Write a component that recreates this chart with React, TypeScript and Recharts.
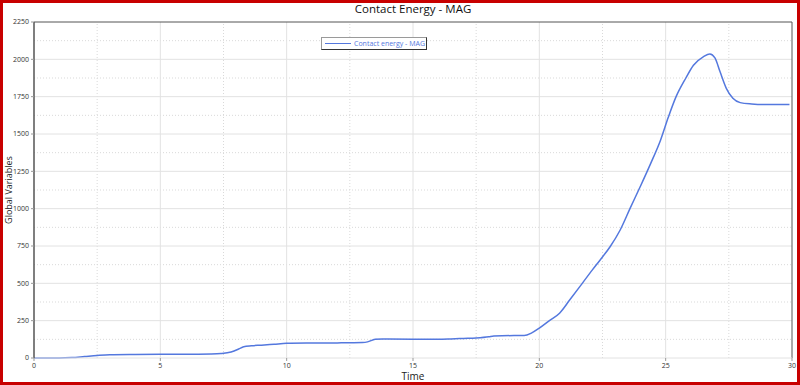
import { LineChart, Line, XAxis, YAxis, ReferenceLine } from "recharts";

const TITLE = "Contact Energy - MAG";
const SERIES_NAME = "Contact energy - MAG";

const time = [
  0, 1, 1.5, 2, 2.5, 3, 4, 5, 6, 7, 7.4, 7.8, 8.1, 8.3, 8.6, 9, 9.5, 10, 11,
  12, 13, 13.2, 13.5, 13.8, 14, 15, 16, 16.5, 17, 17.5, 18, 18.2, 19, 19.4,
  19.7, 20, 20.4, 20.8, 21.2, 21.7, 22.1, 22.4, 22.8, 23.2, 23.6, 24, 24.4,
  24.8, 25.1, 25.4, 25.8, 26.1, 26.5, 26.75, 26.95, 27.15, 27.4, 27.66, 27.95,
  28.4, 29, 29.5, 29.9,
];

const energy = [
  0, 0, 3, 10, 17, 22, 24, 25, 25, 27, 30, 40, 60, 76, 82, 86, 92, 98, 100,
  101, 104, 108, 125, 128, 127, 126, 126, 128, 131, 134, 142, 148, 150, 150,
  168, 200, 250, 300, 388, 500, 590, 655, 745, 857, 1005, 1150, 1300, 1460,
  1610, 1745, 1875, 1960, 2018, 2036, 2010, 1918, 1806, 1739, 1710, 1701,
  1697, 1698, 1697,
];

const xTicks = [0, 5, 10, 15, 20, 25, 30];
const yTicks = [0, 250, 500, 750, 1000, 1250, 1500, 1750, 2000, 2250];
const xMinor = [2.5, 7.5, 12.5, 17.5, 22.5, 27.5];
const yMinor = [125, 375, 625, 875, 1125, 1375, 1625, 1875, 2125];

const data = time.map((t, i) => ({ t, v: energy[i] }));

const LINE_COLOR = "#5478de";
const FONT = "'Open Sans', 'Noto Sans', sans-serif";

function LegendBox() {
  return (
    <div
      style={{
        position: "absolute",
        left: 321,
        top: 37,
        width: 104,
        height: 11,
        borderTop: "1px solid #9a9a9a",
        borderLeft: "1px solid #9a9a9a",
        borderRight: "1px solid #333",
        borderBottom: "1px solid #333",
        background: "#fff",
        display: "flex",
        alignItems: "center",
        fontSize: 7,
        color: LINE_COLOR,
        whiteSpace: "nowrap",
      }}
    >
      <span
        style={{
          display: "inline-block",
          width: 26,
          height: 1.5,
          background: LINE_COLOR,
          marginLeft: 3,
          marginRight: 3,
        }}
      />
      {SERIES_NAME}
    </div>
  );
}

export default function App() {
  return (
    <div
      style={{
        position: "absolute",
        left: 0,
        top: 0,
        width: 800,
        height: 385,
        background: "#fff",
        fontFamily: FONT,
      }}
    >
      <div
        style={{
          position: "absolute",
          left: 0,
          right: 0,
          top: 1,
          textAlign: "center",
          fontSize: 11.5,
          color: "#111",
          paddingLeft: 26,
        }}
      >
        {TITLE}
      </div>
      <div
        style={{
          position: "absolute",
          left: 8,
          top: 190,
          transform: "translate(-50%, -50%) rotate(-90deg)",
          fontSize: 9,
          color: "#222",
          whiteSpace: "nowrap",
        }}
      >
        Global Variables
      </div>
      <LineChart
        width={800}
        height={385}
        data={data}
        margin={{ top: 22, right: 8, left: 0, bottom: 0 }}
      >
        {xMinor.map((x) => (
          <ReferenceLine key={"xm" + x} x={x} stroke="#d9d9d9" strokeDasharray="1 2" />
        ))}
        {yMinor.map((y) => (
          <ReferenceLine key={"ym" + y} y={y} stroke="#d9d9d9" strokeDasharray="1 2" />
        ))}
        {xTicks.slice(1, -1).map((x) => (
          <ReferenceLine key={"xM" + x} x={x} stroke="#e2e2e2" />
        ))}
        {yTicks.slice(1, -1).map((y) => (
          <ReferenceLine key={"yM" + y} y={y} stroke="#e2e2e2" />
        ))}
        <ReferenceLine y={2250} stroke="#555" />
        <ReferenceLine x={30} stroke="#555" />
        <XAxis
          dataKey="t"
          type="number"
          domain={[0, 30]}
          ticks={xTicks}
          height={27}
          tickSize={3}
          tick={{ fontSize: 7, fill: "#333", fontFamily: FONT }}
          axisLine={{ stroke: "#e2e2e2" }}
          tickLine={{ stroke: "#999" }}
          label={{
            value: "Time",
            position: "insideBottom",
            offset: 5,
            style: { fontSize: 10, fill: "#222", fontFamily: FONT },
          }}
        />
        <YAxis
          type="number"
          domain={[0, 2250]}
          ticks={yTicks}
          width={34}
          tickSize={3}
          tick={{ fontSize: 7, fill: "#333", fontFamily: FONT }}
          axisLine={{ stroke: "#555", strokeWidth: 1.5 }}
          tickLine={{ stroke: "#999" }}
          interval={0}
        />
        <Line
          type="monotone"
          dataKey="v"
          stroke={LINE_COLOR}
          strokeWidth={1.5}
          dot={false}
          isAnimationActive={false}
        />
      </LineChart>
      <LegendBox />
      <div
        style={{
          position: "absolute",
          left: 0,
          top: 0,
          width: 800,
          height: 385,
          boxSizing: "border-box",
          border: "3px solid #c80000",
          pointerEvents: "none",
        }}
      />
    </div>
  );
}
